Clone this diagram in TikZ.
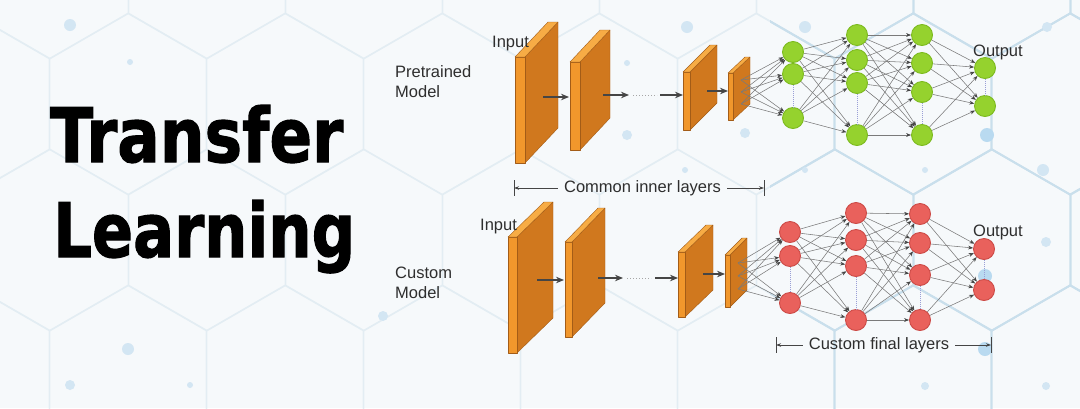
\documentclass[tikz,border=0pt]{standalone}
\usepackage{fontspec}
\setmainfont{Liberation Sans}
\newfontfamily\titlefont[BoldFeatures={FakeBold=1.6}]{DejaVu Sans}
\usetikzlibrary{arrows.meta}
\definecolor{bgc}{HTML}{F6F9FB}
\definecolor{hexc}{HTML}{E3EDF3}
\definecolor{hexd}{HTML}{C9DFEC}
\definecolor{dotc}{HTML}{D3E6F3}
\definecolor{dotd}{HTML}{B9DAF0}
\definecolor{slabside}{HTML}{D0781E}
\definecolor{slabfront}{HTML}{F1972C}
\definecolor{slabtop}{HTML}{F7AC45}
\definecolor{slabedge}{HTML}{A35C17}
\definecolor{greenfill}{HTML}{95D22E}
\definecolor{greenedge}{HTML}{7CBA1E}
\definecolor{redfill}{HTML}{E9615C}
\definecolor{rededge}{HTML}{CC4A46}
\definecolor{edgec}{HTML}{7A7A7A}
\definecolor{arrc}{HTML}{454545}
\definecolor{vdotc}{HTML}{9A9FD6}
\definecolor{txtc}{HTML}{2E2E2E}

\newcommand\slabshape[6]{%
  \filldraw[slabface] (#1+#2,#3) -- (#1+#2+#5,#3-#6) -- (#1+#2+#5,#4-#6) -- (#1+#2,#4) -- cycle;
  \filldraw[slabfrontface] (#1,#3) -- (#1+#2,#3) -- (#1+#2,#4) -- (#1,#4) -- cycle;
  \filldraw[slabtopface] (#1,#3) -- (#1+#5,#3-#6) -- (#1+#2+#5,#3-#6) -- (#1+#2,#3) -- cycle;
}
\newcommand\hexgrid[1]{%
  \foreach \cy/\xs in {-32/50, 104/128, 240/50, 376/128, 512/50} {
    \foreach \i in {-1,...,7} {
      \draw[#1] (\xs+157*\i, \cy-90.6) -- ++(78.5,45.3) -- ++(0,90.6) -- ++(-78.5,45.3) -- ++(-78.5,-45.3) -- ++(0,-90.6) -- cycle;
    }
  }
}

\begin{document}
\begin{tikzpicture}[x=1pt,y=-1pt,
  hexline/.style={draw=hexc, line width=1.3pt},
  hexstrong/.style={draw=hexd, line width=1.8pt},
  slabface/.style={fill=slabside, draw=slabedge, line width=0.4pt, line join=round},
  slabfrontface/.style={fill=slabfront, draw=slabedge, line width=0.4pt, line join=round},
  slabtopface/.style={fill=slabtop, draw=slabedge, line width=0.4pt, line join=round},
  neuron/.style={circle, minimum size=21pt, inner sep=0pt, line width=0.9pt},
  gneuron/.style={neuron, fill=greenfill, draw=greenedge},
  rneuron/.style={neuron, fill=redfill, draw=rededge},
  conn/.style={draw=edgec, line width=0.55pt, -{Stealth[length=5pt,width=3.8pt,color=arrc]}},
  flow/.style={draw=arrc, line width=1.6pt, -{Stealth[length=8pt,width=6.5pt]}},
  gap/.style={draw=gray!70, dotted, line width=1pt},
  vdots/.style={draw=vdotc, densely dotted, line width=1pt},
  txt/.style={font=\fontsize{16.5}{19}\selectfont, inner sep=0pt, text=txtc},
  brk/.style={draw=arrc, line width=0.7pt, -{Stealth[length=5pt,width=3.5pt]}},
  tick/.style={draw=arrc, line width=0.8pt},
  title/.style={inner sep=0pt, text=black, anchor=base west}
]
\useasboundingbox (0,0) rectangle (1080,408);
% ---------- background ----------
\begin{scope}
  \clip (0,0) rectangle (1080,408);
  \fill[bgc] (0,0) rectangle (1080,408);
  \hexgrid{hexline}
  \begin{scope}
    \clip (770,0) rectangle (1080,408);
    \hexgrid{hexstrong}
  \end{scope}
  \foreach \x/\y/\r in {70/25/6, 130/62/3, 128/349/6, 70/385/5, 190/385/3, 383/316/5,
      687/27/6, 805/27/6, 627/63/3, 745/133/5, 627/135/5, 685/170/3, 805/170/3, 925/170/3,
      1047/27/5, 983/63/5, 1043/170/6, 925/386/4, 1046/386/4, 1046/242/5}
    \fill[dotc] (\x,\y) circle (\r pt);
  \foreach \x/\y/\r in {987/135/7, 985/276/7, 985/349/7}
    \fill[dotd] (\x,\y) circle (\r pt);
\end{scope}

% ---------- title ----------
\node[title] (t1) at (50,162) {\resizebox{293pt}{\height}{\titlefont\bfseries\fontsize{75}{75}\selectfont Transfer}};
\node[title] (t2) at (53,257) {\resizebox{302pt}{\height}{\titlefont\bfseries\fontsize{75}{75}\selectfont Learning}};

% ---------- top model ----------
\node[txt, anchor=base west] (pm1) at (395,77) {Pretrained};
\node[txt, anchor=base west] (pm2) at (395,97) {Model};
\slabshape{515}{10}{57}{163}{33}{35}
\slabshape{570}{10}{62}{150}{30}{32}
\slabshape{683}{7}{72}{130}{27}{27}
\slabshape{728}{5}{73}{120}{17}{16}
\node[txt, anchor=base west] (tin) at (492,47) {Input};

\coordinate (ta1) at (543,97);  \coordinate (ta2) at (569,97);
\coordinate (tb1) at (603,95);  \coordinate (tb2) at (629,95);
\coordinate (tg1) at (633,95);  \coordinate (tg2) at (657,95);
\coordinate (tc1) at (660,95);  \coordinate (tc2) at (683,95);
\coordinate (td1) at (707,91);  \coordinate (td2) at (728,91);
\draw[flow] (ta1) -- (ta2);
\draw[flow] (tb1) -- (tb2);
\draw[gap] (tg1) -- (tg2);
\draw[flow] (tc1) -- (tc2);
\draw[flow] (td1) -- (td2);

\foreach \i/\y in {1/52, 2/74, 3/118} \node[gneuron] (gA\i) at (793,\y) {};
\foreach \i/\y in {1/35, 2/60, 3/83, 4/135} \node[gneuron] (gB\i) at (857,\y) {};
\foreach \i/\y in {1/35, 2/63, 3/92, 4/135} \node[gneuron] (gC\i) at (922,\y) {};
\foreach \i/\y in {1/68, 2/106} \node[gneuron] (gD\i) at (985,\y) {};
\node[txt, anchor=base west] (tout) at (973,56) {Output};

\coordinate (ts1) at (741,80); \coordinate (ts2) at (741,92); \coordinate (ts3) at (741,104);
\foreach \s in {1,2,3} \foreach \a in {1,2,3} \draw[conn] (ts\s) -- (gA\a);
\foreach \a in {1,2,3} \foreach \b in {1,2,3,4} \draw[conn] (gA\a) -- (gB\b);
\foreach \a in {1,2,3,4} \foreach \b in {1,2,3,4} \draw[conn] (gB\a) -- (gC\b);
\foreach \a in {1,2,3,4} \foreach \b in {1,2} \draw[conn] (gC\a) -- (gD\b);
\draw[vdots] (gA2.south) -- (gA3.north);
\draw[vdots] (gB3.south) -- (gB4.north);
\draw[vdots] (gC3.south) -- (gC4.north);
\draw[vdots] (gD1.south) -- (gD2.north);

\node[txt, inner xsep=6pt, anchor=center] (cil) at (642.5,188) {Common inner layers};
\coordinate (cl) at (514,188); \coordinate (cr) at (764,188);
\draw[brk] (cil.west) -- (cl);
\draw[brk] (cil.east) -- (cr);
\draw[tick] ([yshift=8pt]cl) -- ([yshift=-8pt]cl);
\draw[tick] ([yshift=8pt]cr) -- ([yshift=-8pt]cr);

% ---------- bottom model ----------
\node[txt, anchor=base west] (cm1) at (395,278) {Custom};
\node[txt, anchor=base west] (cm2) at (395,298) {Model};
\slabshape{508}{9}{237}{353}{36}{35}
\slabshape{565}{7}{242}{337}{33}{34}
\slabshape{678}{7}{252}{317}{28}{27}
\slabshape{725}{5}{255}{307}{17}{17}
\node[txt, anchor=base west] (bin) at (480,230) {Input};

\coordinate (ba1) at (537,280);  \coordinate (ba2) at (564,280);
\coordinate (bb1) at (598,278);  \coordinate (bb2) at (623,278);
\coordinate (bg1) at (627,278);  \coordinate (bg2) at (651,278);
\coordinate (bc1) at (655,278);  \coordinate (bc2) at (678,278);
\coordinate (bd1) at (703,274);  \coordinate (bd2) at (725,274);
\draw[flow] (ba1) -- (ba2);
\draw[flow] (bb1) -- (bb2);
\draw[gap] (bg1) -- (bg2);
\draw[flow] (bc1) -- (bc2);
\draw[flow] (bd1) -- (bd2);

\foreach \i/\y in {1/232, 2/256, 3/303} \node[rneuron] (rA\i) at (790,\y) {};
\foreach \i/\y in {1/213, 2/240, 3/266, 4/320} \node[rneuron] (rB\i) at (856,\y) {};
\foreach \i/\y in {1/214, 2/243, 3/275, 4/320} \node[rneuron] (rC\i) at (920,\y) {};
\foreach \i/\y in {1/249, 2/290} \node[rneuron] (rD\i) at (984,\y) {};
\node[txt, anchor=base west] (bout) at (973,236) {Output};

\coordinate (bs1) at (738,263); \coordinate (bs2) at (738,276); \coordinate (bs3) at (738,289);
\foreach \s in {1,2,3} \foreach \a in {1,2,3} \draw[conn] (bs\s) -- (rA\a);
\foreach \a in {1,2,3} \foreach \b in {1,2,3,4} \draw[conn] (rA\a) -- (rB\b);
\foreach \a in {1,2,3,4} \foreach \b in {1,2,3,4} \draw[conn] (rB\a) -- (rC\b);
\foreach \a in {1,2,3,4} \foreach \b in {1,2} \draw[conn] (rC\a) -- (rD\b);
\draw[vdots] (rA2.south) -- (rA3.north);
\draw[vdots] (rB3.south) -- (rB4.north);
\draw[vdots] (rC3.south) -- (rC4.north);
\draw[vdots] (rD1.south) -- (rD2.north);

\node[txt, inner xsep=6pt, anchor=center] (cfl) at (879,345) {Custom final layers};
\coordinate (fl) at (776,345); \coordinate (fr) at (991,345);
\draw[brk] (cfl.west) -- (fl);
\draw[brk] (cfl.east) -- (fr);
\draw[tick] ([yshift=8pt]fl) -- ([yshift=-8pt]fl);
\draw[tick] ([yshift=8pt]fr) -- ([yshift=-8pt]fr);
\end{tikzpicture}
\end{document}
